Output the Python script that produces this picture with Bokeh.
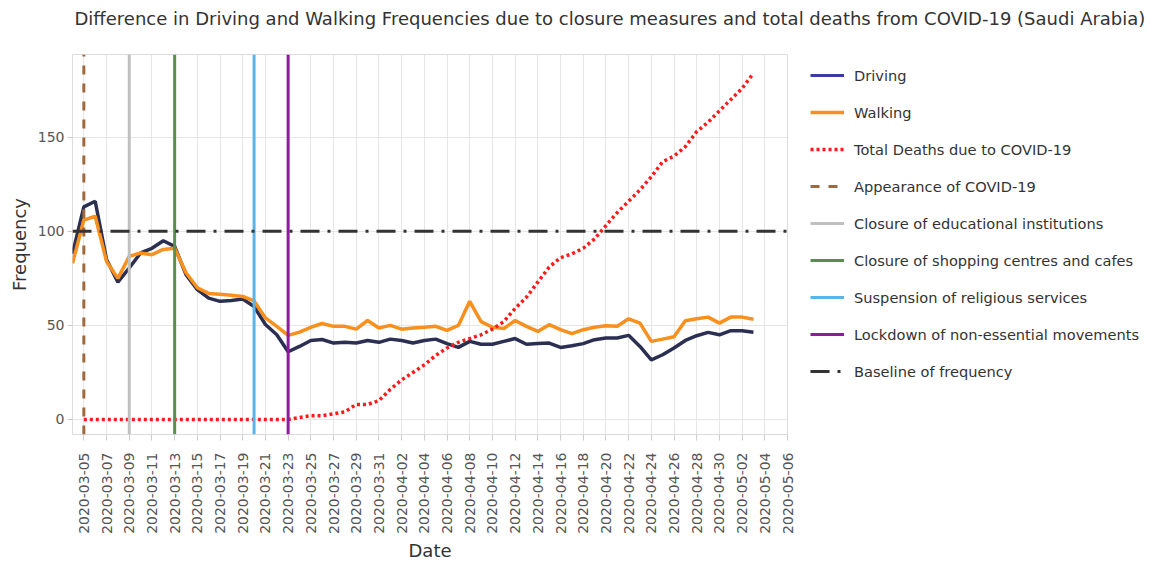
import math
import pandas as pd
from bokeh.plotting import figure
from bokeh.models import (Legend, LegendItem, FixedTicker, Title,
                          DatetimeTickFormatter, Range1d)
from bokeh.embed import file_html
from bokeh.resources import INLINE

# ---------------- data ----------------
mobility_start = "2020-03-04"
driving = [88, 113, 116, 85, 73, 80.5, 88.5, 91, 95, 92,
           77, 69, 64.5, 62.8, 63.2, 64, 60, 50.5, 45, 36,
           38.8, 42, 42.5, 40.6, 41, 40.6, 42, 41, 42.7, 42,
           40.6, 42, 42.7, 40.3, 38.3, 41.5, 40, 40, 41.5, 43,
           40, 40.4, 40.6, 38.3, 39.2, 40.3, 42.4, 43.3, 43.3, 44.7,
           38.8, 31.7, 34.4, 38, 42, 44.5, 46.3, 45, 47.2, 47.2, 46.4]
walking = [83, 106, 108, 84, 75, 86.7, 88.5, 87.6, 90.4, 91,
           78, 70, 67, 66.6, 66, 65.4, 63, 54, 49.5, 44.7,
           46.4, 49, 51, 49.5, 49.5, 48, 52.6, 48.6, 50, 48,
           48.6, 49, 49.5, 47.3, 50, 62.8, 52, 49, 48.3, 52.6,
           49.5, 46.8, 50.4, 47.7, 45.6, 47.7, 49, 49.8, 49.5, 53.5,
           51.2, 41.5, 42.7, 44, 52.5, 53.5, 54.4, 51.2, 54.4, 54.4, 53.3]
deaths_start = "2020-03-05"
deaths = [0, 0, 0, 0, 0, 0, 0, 0, 0, 0,
          0, 0, 0, 0, 0, 0, 0, 0, 0,
          1, 2, 2, 3, 4, 8, 8, 10, 16, 21,
          25, 29, 34, 38, 41, 43, 45, 48, 52, 59,
          65, 73, 81, 86, 88, 91, 96, 103, 110, 116,
          122, 129, 137, 140, 145, 153, 158, 164, 170, 176, 184]

event_dates = ["2020-03-05", "2020-03-09", "2020-03-13", "2020-03-20", "2020-03-23"]
event_labels = ["Appearance of COVID-19", "Closure of educational institutions",
                "Closure of shopping centres and cafes", "Suspension of religious services",
                "Lockdown of non-essential movements"]
event_colors = ["#a0693c", "#c0c0c0", "#5b8c50", "#5ab4e8", "#8e1a9e"]
event_dashes = ["9 9", "solid", "solid", "solid", "solid"]

baseline_value = 100
x_first_tick, x_last_tick = "2020-03-05", "2020-05-06"
x_start, x_end = "2020-03-04", "2020-05-06"
y_start, y_end = -8, 194
y_ticks = [0, 50, 100, 150]

title_text = ("Difference in Driving and Walking Frequencies due to closure measures "
              "and total deaths from COVID-19 (Saudi Arabia)")

# ---------------- build ----------------
FONT = "DejaVu Sans"
def ms(d):
    return pd.Timestamp(d).value / 1e6

mob_dates = pd.date_range(mobility_start, periods=len(driving), freq="D")
death_dates = pd.date_range(deaths_start, periods=len(deaths), freq="D")
tick_vals = [ms(d) for d in pd.date_range(x_first_tick, x_last_tick, freq="2D")]

p = figure(frame_width=715, frame_height=380, x_axis_type="datetime",
           output_backend="svg", toolbar_location=None,
           x_range=Range1d(ms(x_start), ms(x_end)),
           y_range=Range1d(y_start, y_end),
           min_border_left=72, min_border_right=363,
           min_border_top=53, min_border_bottom=129)

# main title (outer slot)
p.title.text = title_text
p.title.text_font = FONT
p.title.text_font_size = "18px"
p.title.text_font_style = "normal"
p.title.text_color = "#333333"
p.title.align = "left"
p.title.offset = 2
p.title.standoff = 11
# blank spacer between title and frame
p.add_layout(Title(text=" ", text_font=FONT, text_font_size="14px",
                   standoff=2), "above")

p.outline_line_color = "#dcdcdc"
p.background_fill_color = "white"
p.border_fill_color = "white"

for ax in (p.xaxis[0], p.yaxis[0]):
    ax.axis_line_color = None
    ax.major_tick_line_color = "#cccccc"
    ax.major_tick_out = 6
    ax.major_tick_in = 0
    ax.minor_tick_line_color = None
    ax.major_label_text_font = FONT
    ax.major_label_text_font_size = "14px"
    ax.major_label_text_color = "#555555"
    ax.axis_label_text_font = FONT
    ax.axis_label_text_font_size = "18px"
    ax.axis_label_text_font_style = "normal"
    ax.axis_label_text_color = "#333333"

p.xaxis.ticker = FixedTicker(ticks=tick_vals)
fmt = "%Y-%m-%d"
p.xaxis.formatter = DatetimeTickFormatter(milliseconds=fmt, seconds=fmt, minsec=fmt,
                                          minutes=fmt, hourmin=fmt, hours=fmt,
                                          days=fmt, months=fmt, years=fmt)
p.xaxis.major_label_orientation = math.pi / 2
p.xaxis.major_label_standoff = 12
p.xaxis.axis_label = "Date"
p.xaxis.axis_label_standoff = 3

p.yaxis.ticker = FixedTicker(ticks=y_ticks)
p.yaxis.major_tick_out = 5
p.yaxis.major_label_standoff = 3
p.yaxis.axis_label = "Frequency"
p.yaxis.axis_label_standoff = 5

p.xgrid.grid_line_color = "#e6e6e6"
p.ygrid.grid_line_color = "#e6e6e6"

r_drive = p.line(mob_dates, driving, line_color="#2b2f52", line_width=3.5)
r_walk = p.line(mob_dates, walking, line_color="#f7901e", line_width=3.5)
r_death = p.line(death_dates, deaths, line_color="#ff1a1a", line_width=3.5,
                 line_dash="3 3")

items = []
leg_drive = p.line([ms(mobility_start)], [float("nan")], line_color="#3b3ba0", line_width=3)
items.append(LegendItem(label="Driving", renderers=[leg_drive]))
items.append(LegendItem(label="Walking", renderers=[r_walk]))
items.append(LegendItem(label="Total Deaths due to COVID-19", renderers=[r_death]))

for d, lab, col, dash in zip(event_dates, event_labels, event_colors, event_dashes):
    r = p.line([ms(d), ms(d)], [y_start, y_end], line_color=col,
               line_width=3, line_dash=dash)
    items.append(LegendItem(label=lab, renderers=[r]))

r_base = p.line([ms(x_start), ms(x_end)], [baseline_value, baseline_value],
                line_color="#333333", line_width=3, line_dash="19 8 3 8")
items.append(LegendItem(label="Baseline of frequency", renderers=[r_base]))

legend = Legend(items=items, location=(23, 53), margin=0, padding=0,
                border_line_color=None, background_fill_alpha=0,
                glyph_width=34, glyph_height=20, label_height=20,
                label_standoff=10, spacing=17,
                label_text_font=FONT, label_text_font_size="14.6px",
                label_text_color="#333333")
p.add_layout(legend, "right")

open("out.html", "w").write(file_html(p, INLINE))
